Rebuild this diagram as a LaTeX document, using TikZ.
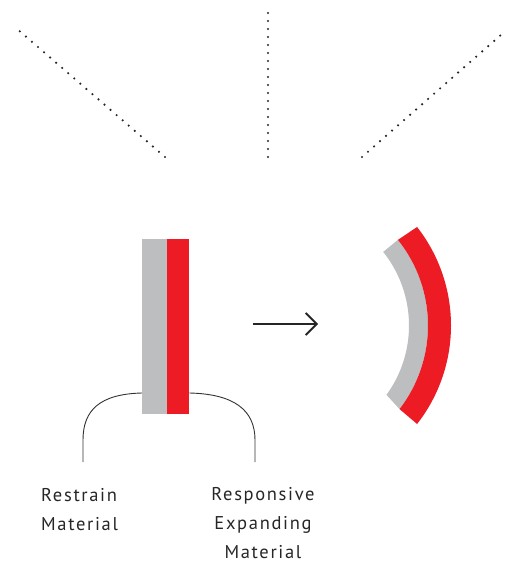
\documentclass[tikz,border=0pt]{standalone}
\usepackage{fontspec}
\setmainfont{PT Sans}[LetterSpace=9]
\usetikzlibrary{arrows.meta}
\definecolor{bred}{HTML}{ED1C24}
\definecolor{bgray}{HTML}{BCBEC0}
\tikzset{
  dotline/.style={line width=2.4pt, line cap=round, dash pattern=on 0pt off 8pt, black!85},
  bracket/.style={line width=0.9pt, black!80},
  lbl/.style={inner sep=0pt, font=\fontsize{18.5}{29}\selectfont, text=black!85},
}
\begin{document}
\begin{tikzpicture}[x=1pt,y=-1pt]
\useasboundingbox (0,0) rectangle (507,567);
% dotted rays
\coordinate (l1) at (16,28); \coordinate (l2) at (165,157);
\coordinate (m1) at (268,8); \coordinate (m2) at (268,157);
\coordinate (r1) at (502,34); \coordinate (r2) at (362,157);
\draw[dotline] (l2) -- (l1);
\draw[dotline] (m2) -- (m1);
\draw[dotline] (r2) -- (r1);
% straight bilayer
\node[fill=bgray, inner sep=0pt, minimum width=25pt, minimum height=175pt, anchor=north west] (grayb) at (142,239) {};
\node[fill=bred, inner sep=0pt, minimum width=22pt, minimum height=175pt, anchor=north west] (redb) at (167,239) {};
% brackets
\coordinate (lb) at (83,462);
\coordinate (rb) at (255,462);
\draw[bracket] (grayb.west |- 0,393) .. controls (100,394) and (83,410) .. (83,440) -- (lb);
\draw[bracket] (redb.east |- 0,393) .. controls (234,394) and (255,410) .. (255,440) -- (rb);
% arrow
\coordinate (a1) at (253,324); \coordinate (a2) at (318,324);
\draw[line width=1.9pt, black!85, -{Straight Barb[length=11pt,width=22pt,line width=1.9pt]}] (a1) -- (a2);
% bent bilayer
\coordinate (c) at (291,325.5);
\fill[bgray] ([shift={(c)}]-38.6:118) arc[start angle=-38.6,end angle=36,radius=118]
  -- ([shift={(c)}]37.6:137) arc[start angle=37.6,end angle=-38.7,radius=137] -- cycle;
\fill[bred] ([shift={(c)}]-38.7:137) arc[start angle=-38.7,end angle=37.6,radius=137]
  -- ([shift={(c)}]38:160) arc[start angle=38,end angle=-38,radius=160] -- cycle;
% labels
\node[lbl, align=left, anchor=base west] (t1) at (41,530) {Restrain\\Material};
\node[lbl, align=center, anchor=base] (t2) at (263,558) {Responsive\\Expanding\\Material};
\end{tikzpicture}
\end{document}
